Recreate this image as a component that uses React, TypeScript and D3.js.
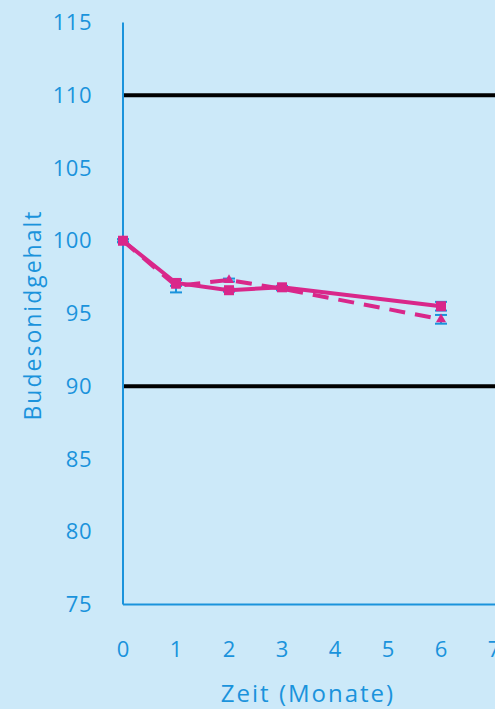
import React from "react";
import * as d3 from "d3";

const months = [0, 1, 2, 3, 6];
const solidValues = [100, 97.1, 96.6, 96.8, 95.5];
const solidErr = [0.1, 0.2, 0.1, 0.1, 0.3];
const dashedValues = [100, 96.9, 97.3, 96.7, 94.6];
const dashedErr = [0.1, 0.45, 0.1, 0.1, 0.3];
const yTicks = [75, 80, 85, 90, 95, 100, 105, 110, 115];
const xTicks = [0, 1, 2, 3, 4, 5, 6, 7];
const limitLines = [90, 110];

const W = 495;
const H = 709;
const BG = "#cce9f9";
const BLUE = "#1a93dc";
const PINK = "#d9278a";
const FONT = "'Open Sans', sans-serif";

export default function App() {
  const x = d3.scaleLinear().domain([0, 7]).range([123, 494]);
  const y = d3.scaleLinear().domain([75, 115]).range([604.5, 22.5]);
  const line = d3
    .line<number>()
    .x((_, i) => x(months[i]))
    .y((d) => y(d));

  return (
    <div style={{ position: "fixed", left: 0, top: 0 }}>
      <svg width={W} height={H} style={{ display: "block" }}>
        <rect x={0} y={0} width={W} height={H} fill={BG} />
        {limitLines.map((v) => (
          <line key={v} x1={x(0)} x2={W + 5} y1={y(v)} y2={y(v)} stroke="#000" strokeWidth={4} />
        ))}
        {/* axes */}
        <line x1={x(0)} x2={x(0)} y1={y(115)} y2={y(75)} stroke={BLUE} strokeWidth={2} />
        <line x1={x(0)} x2={W + 5} y1={y(75)} y2={y(75)} stroke={BLUE} strokeWidth={2} />
        {yTicks.map((t) => (
          <text
            key={t}
            x={92}
            y={y(t)}
            dy="0.35em"
            textAnchor="end"
            fontFamily={FONT}
            fontSize={22}
            letterSpacing={0.5}
            fill={BLUE}
          >
            {t}
          </text>
        ))}
        {xTicks.map((t) => (
          <text
            key={t}
            x={x(t)}
            y={657}
            textAnchor="middle"
            fontFamily={FONT}
            fontSize={22}
            fill={BLUE}
          >
            {t}
          </text>
        ))}
        <text
          x={308}
          y={702}
          textAnchor="middle"
          fontFamily={FONT}
          fontSize={24}
          letterSpacing={2}
          fill={BLUE}
        >
          Zeit (Monate)
        </text>
        <text
          transform={`translate(41,${315}) rotate(-90)`}
          textAnchor="middle"
          fontFamily={FONT}
          fontSize={23}
          letterSpacing={2}
          fill={BLUE}
        >
          Budesonidgehalt
        </text>
        {/* error bars */}
        {months.map((m, i) => (
          <g key={"es" + i} stroke={BLUE} strokeWidth={2}>
            <line x1={x(m)} x2={x(m)} y1={y(solidValues[i] - solidErr[i])} y2={y(solidValues[i] + solidErr[i])} />
            <line x1={x(m) - 6} x2={x(m) + 6} y1={y(solidValues[i] - solidErr[i])} y2={y(solidValues[i] - solidErr[i])} />
            <line x1={x(m) - 6} x2={x(m) + 6} y1={y(solidValues[i] + solidErr[i])} y2={y(solidValues[i] + solidErr[i])} />
          </g>
        ))}
        {months.map((m, i) => (
          <g key={"ed" + i} stroke={BLUE} strokeWidth={2}>
            <line x1={x(m)} x2={x(m)} y1={y(dashedValues[i] - dashedErr[i])} y2={y(dashedValues[i] + dashedErr[i])} />
            <line x1={x(m) - 6} x2={x(m) + 6} y1={y(dashedValues[i] - dashedErr[i])} y2={y(dashedValues[i] - dashedErr[i])} />
            <line x1={x(m) - 6} x2={x(m) + 6} y1={y(dashedValues[i] + dashedErr[i])} y2={y(dashedValues[i] + dashedErr[i])} />
          </g>
        ))}
        <path d={line(dashedValues) ?? ""} fill="none" stroke={PINK} strokeWidth={4} strokeDasharray="16 10" />
        <path d={line(solidValues) ?? ""} fill="none" stroke={PINK} strokeWidth={4} />
        {months.map((m, i) => (
          <path
            key={"md" + i}
            d={d3.symbol(d3.symbolTriangle, 45)() ?? ""}
            transform={`translate(${x(m)},${y(dashedValues[i])})`}
            fill={PINK}
          />
        ))}
        {months.map((m, i) => (
          <rect
            key={"ms" + i}
            x={x(m) - 5}
            y={y(solidValues[i]) - 5}
            width={10}
            height={10}
            fill={PINK}
          />
        ))}
      </svg>
    </div>
  );
}
